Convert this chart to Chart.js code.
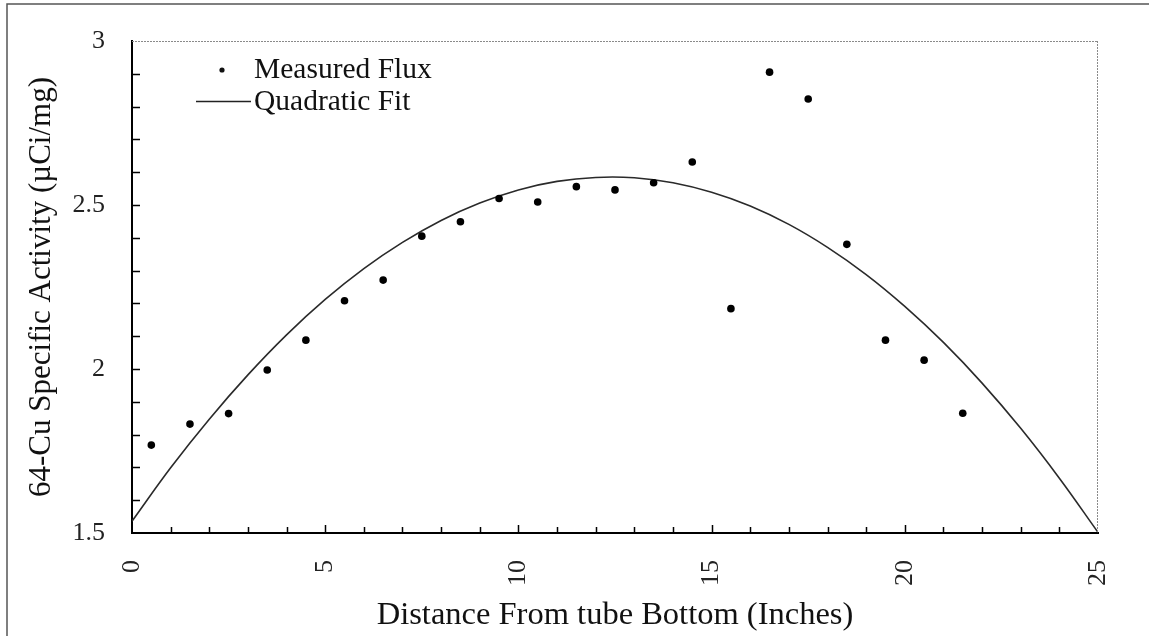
<!DOCTYPE html>
<html>
<head>
<meta charset="utf-8">
<script src="https://cdn.jsdelivr.net/npm/chart.js@4.4.1/dist/chart.umd.min.js"></script>
<style>
  html, body { margin: 0; padding: 0; background: #fff; }
  #wrap { width: 1149px; height: 636px; position: relative; }
</style>
</head>
<body>
<div id="wrap"><canvas id="c" width="1149" height="636"></canvas></div>
<script>
// ---- data ----
const measuredX = [0.5, 1.5, 2.5, 3.5, 4.5, 5.5, 6.5, 7.5, 8.5, 9.5, 10.5, 11.5, 12.5, 13.5, 14.5, 15.5, 16.5, 17.5, 18.5, 19.5, 20.5, 21.5];
const measuredY = [1.768, 1.832, 1.864, 1.997, 2.088, 2.208, 2.271, 2.405, 2.449, 2.520, 2.509, 2.556, 2.546, 2.568, 2.631, 2.184, 2.905, 2.823, 2.380, 2.088, 2.027, 1.865];
const fitX = [0, 1, 2, 3, 4, 5, 6, 7, 8, 9, 10, 11, 12, 13, 14, 15, 16, 17, 18, 19, 20, 21, 22, 23, 24, 25];
const fitY = [1.536, 1.699, 1.847, 1.982, 2.104, 2.212, 2.306, 2.386, 2.453, 2.506, 2.546, 2.572, 2.584, 2.583, 2.568, 2.539, 2.497, 2.441, 2.371, 2.288, 2.191, 2.081, 1.957, 1.819, 1.667, 1.502];
const xTickValues = [0, 5, 10, 15, 20, 25];
const yTickValues = [1.5, 2, 2.5, 3];
const seriesNames = ['Measured Flux', 'Quadratic Fit'];
const xTitle = 'Distance From tube Bottom (Inches)';
const yTitle = '64-Cu Specific Activity (\u00B5Ci/mg)';

const FONT = '"Liberation Serif", "Times New Roman", serif';

const decorPlugin = {
  id: 'decor',
  beforeDraw(chart) {
    const ctx = chart.ctx;
    ctx.save();
    ctx.fillStyle = '#fff';
    ctx.fillRect(0, 0, chart.width, chart.height);
    // outer figure border
    ctx.strokeStyle = '#555';
    ctx.lineWidth = 1.5;
    ctx.beginPath();
    ctx.moveTo(7, chart.height);
    ctx.lineTo(7, 4);
    ctx.lineTo(chart.width, 4);
    ctx.stroke();
    ctx.restore();
  },
  afterDraw(chart) {
    const ctx = chart.ctx;
    const { left, right, top, bottom } = chart.chartArea;
    const xs = chart.scales.x, ys = chart.scales.y;
    ctx.save();
    // top and right frame (grey dotted)
    ctx.strokeStyle = '#8a8a8a';
    ctx.lineWidth = 1;
    ctx.setLineDash([2, 1]);
    ctx.beginPath();
    ctx.moveTo(left, top + 0.5);
    ctx.lineTo(right, top + 0.5);
    ctx.moveTo(right - 0.5, top);
    ctx.lineTo(right - 0.5, bottom);
    ctx.stroke();
    ctx.setLineDash([]);
    // inward ticks
    ctx.strokeStyle = '#000';
    ctx.lineWidth = 1.5;
    ctx.beginPath();
    for (let i = 1; i < 15; i++) {
      const py = Math.round(ys.getPixelForValue(ys.min + i * 0.1)) + 0.5;
      ctx.moveTo(left, py);
      ctx.lineTo(left + 8, py);
    }
    for (let i = 1; i < 25; i++) {
      const px = Math.round(xs.getPixelForValue(i)) + 0.5;
      const len = (i % 5 === 0) ? 8 : 6;
      ctx.moveTo(px, bottom);
      ctx.lineTo(px, bottom - len);
    }
    ctx.stroke();
    // legend
    const ds = chart.data.datasets;
    ctx.font = '29.5px ' + FONT;
    ctx.fillStyle = '#111';
    ctx.textBaseline = 'middle';
    ctx.textAlign = 'left';
    ctx.beginPath();
    ctx.arc(222, 70, 2.6, 0, Math.PI * 2);
    ctx.fill();
    ctx.fillText(ds[0].label, 254, 70);
    ctx.strokeStyle = '#222';
    ctx.lineWidth = 1.5;
    ctx.beginPath();
    ctx.moveTo(196, 101.5);
    ctx.lineTo(251, 101.5);
    ctx.stroke();
    ctx.fillText(ds[1].label, 254, 102);
    ctx.restore();
  }
};

new Chart(document.getElementById('c'), {
  type: 'scatter',
  data: {
    datasets: [
      {
        label: seriesNames[0],
        data: measuredX.map((x, i) => ({ x: x, y: measuredY[i] })),
        backgroundColor: '#000',
        borderColor: '#000',
        pointRadius: 3.8,
        pointBorderWidth: 0,
        showLine: false,
        order: 1
      },
      {
        label: seriesNames[1],
        data: fitX.map((x, i) => ({ x: x, y: fitY[i] })),
        borderColor: '#2a2a2a',
        borderWidth: 1.6,
        pointRadius: 0,
        showLine: true,
        tension: 0.4,
        fill: false,
        order: 2
      }
    ]
  },
  options: {
    responsive: false,
    animation: false,
    events: [],
    layout: { padding: { top: 41, right: 51, left: 0, bottom: 0 } },
    plugins: {
      legend: { display: false },
      tooltip: { enabled: false }
    },
    scales: {
      x: {
        type: 'linear',
        min: 0,
        max: 25,
        afterBuildTicks: (s) => { s.ticks = xTickValues.map(v => ({ value: v })); },
        afterFit: (s) => { s.height = 103; s.paddingLeft = 0; s.paddingRight = 0; },
        grid: { display: false, drawTicks: false },
        border: { display: true, color: '#000', width: 2 },
        ticks: {
          minRotation: 90,
          maxRotation: 90,
          padding: 27,
          color: '#222',
          font: { family: FONT, size: 26 },
          callback: (v) => String(v)
        },
        title: {
          display: true,
          text: xTitle,
          color: '#111',
          font: { family: FONT, size: 32.5 },
          padding: { top: 0, bottom: 1 }
        }
      },
      y: {
        type: 'linear',
        min: 1.5,
        max: 3,
        afterBuildTicks: (s) => { s.ticks = yTickValues.map(v => ({ value: v })); },
        afterFit: (s) => { s.width = 132; s.paddingTop = 0; s.paddingBottom = 0; },
        grid: { display: false, drawTicks: false },
        border: { display: true, color: '#000', width: 2 },
        ticks: {
          padding: 27,
          color: '#222',
          font: { family: FONT, size: 26 },
          callback: (v) => String(v)
        },
        title: {
          display: true,
          text: yTitle,
          color: '#111',
          font: { family: FONT, size: 31 },
          padding: { top: 23, bottom: 0 }
        }
      }
    }
  },
  plugins: [decorPlugin]
});
</script>
</body>
</html>
